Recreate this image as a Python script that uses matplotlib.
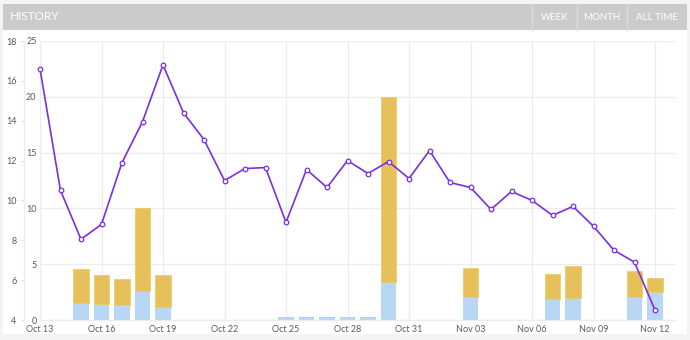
import matplotlib
matplotlib.use("Agg")
import matplotlib.pyplot as plt
from matplotlib.patches import Rectangle
import numpy as np

# ---- data ----
days = ["Oct 13", "Oct 14", "Oct 15", "Oct 16", "Oct 17", "Oct 18", "Oct 19", "Oct 20",
        "Oct 21", "Oct 22", "Oct 23", "Oct 24", "Oct 25", "Oct 26", "Oct 27", "Oct 28",
        "Oct 29", "Oct 30", "Oct 31", "Nov 01", "Nov 02", "Nov 03", "Nov 04", "Nov 05",
        "Nov 06", "Nov 07", "Nov 08", "Nov 09", "Nov 10", "Nov 11", "Nov 12"]

rating = [16.6, 10.5, 8.05, 8.8, 11.9, 13.95, 16.8, 14.4, 13.05, 11.0, 11.6, 11.65,
          8.9, 11.55, 10.65, 12.0, 11.35, 11.95, 11.1, 12.5, 10.9, 10.65, 9.55,
          10.45, 10.0, 9.25, 9.7, 8.7, 7.5, 6.9, 4.5]

primary = [0, 0, 1.5, 1.45, 1.35, 2.6, 1.2, 0, 0, 0, 0, 0, 0.3, 0.3, 0.3, 0.3, 0.3,
           3.4, 0, 0, 0, 2.05, 0, 0, 0, 1.9, 2.0, 0, 0, 2.05, 2.55]
secondary = [0, 0, 3.05, 2.55, 2.35, 7.4, 2.8, 0, 0, 0, 0, 0, 0, 0, 0, 0, 0,
             16.6, 0, 0, 0, 2.6, 0, 0, 0, 2.25, 2.8, 0, 0, 2.3, 1.25]

tick_labels = ["Oct 13", "Oct 16", "Oct 19", "Oct 22", "Oct 25", "Oct 28", "Oct 31",
               "Nov 03", "Nov 06", "Nov 09", "Nov 12"]
bar_ticks = [0, 5, 10, 15, 20, 25]
rating_ticks = [4, 6, 8, 10, 12, 14, 16, 18]
buttons = ["WEEK", "MONTH", "ALL TIME"]

# ---- style ----
FONT = "Lato"
TICK_COLOR = "#5a5a5a"
GRID = "#ececec"
GOLD = "#E6C15B"
BLUE = "#B7D7F4"
PURPLE = "#7A2FE2"

W, H = 690, 340
fig = plt.figure(figsize=(W / 100, H / 100), dpi=100)
fig.patch.set_facecolor("#F4F4F4")

def fx(px):
    return px / W

def fy(py):
    return 1 - py / H

# card and header
fig.patches.append(Rectangle((fx(3), fy(334)), fx(684), 330 / H, transform=fig.transFigure,
                             facecolor="white", edgecolor="none", zorder=-2))
fig.patches.append(Rectangle((fx(3), fy(30)), fx(684), 26 / H, transform=fig.transFigure,
                             facecolor="#CBCBCB", edgecolor="none", zorder=-1))
for sx in (532, 577, 627):
    fig.add_artist(plt.Line2D([fx(sx), fx(sx)], [fy(30), fy(4)], transform=fig.transFigure,
                              color="#DCDCDC", lw=1.0, zorder=2))
fig.text(fx(10), fy(17), "HISTORY", color="white", fontsize=8.5, family=FONT,
         ha="left", va="center", zorder=3)
btn_centers = [554.5, 602, 657]
for label, cx in zip(buttons, btn_centers):
    fig.text(fx(cx), fy(17), label, color="white", fontsize=7, family=FONT,
             ha="center", va="center", zorder=3)

# ---- axes ----
left, right, top, bottom = 40, 676, 41, 320
ax = fig.add_axes([fx(left), fy(bottom), fx(right - left), (bottom - top) / H])
ax.set_zorder(3)
ax.set_facecolor("none")
x = np.arange(len(days))

ax.bar(x, primary, width=0.74, color=BLUE, edgecolor="none", zorder=2)
ax.bar(x, secondary, width=0.74, bottom=primary, color=GOLD, edgecolor="#EDCB6A",
       linewidth=0.6, zorder=2)

ax.set_xlim(0, (right - left) / 20.5)
ax.set_ylim(0, 25)
ax.set_yticks(bar_ticks)
ax.set_yticklabels([str(t) for t in bar_ticks])
tick_pos = [days.index(t) for t in tick_labels]
ax.set_xticks(tick_pos)
ax.set_xticklabels(tick_labels)
ax.tick_params(axis="both", length=0, labelsize=6.5, colors=TICK_COLOR)
ax.tick_params(axis="x", pad=3.8)
ax.tick_params(axis="y", pad=2.5)
for lab in ax.get_xticklabels() + ax.get_yticklabels():
    lab.set_family(FONT)
ax.grid(True, color=GRID, linewidth=0.9, zorder=0)
ax.set_axisbelow(True)
for s in ("top", "right"):
    ax.spines[s].set_visible(False)
for s in ("left", "bottom"):
    ax.spines[s].set_color(GRID)
    ax.spines[s].set_linewidth(0.9)

# rating line on its own left axis
ax2 = ax.twinx()
ax2.set_zorder(4)
ax2.plot(x, rating, color=PURPLE, lw=1.2, marker="o", markersize=3.3,
         markerfacecolor="white", markeredgecolor=PURPLE, markeredgewidth=0.9,
         zorder=5, clip_on=False)
ax2.set_ylim(4, 18)
ax2.set_yticks(rating_ticks)
ax2.yaxis.tick_left()
ax2.spines["left"].set_visible(True)
ax2.spines["left"].set_position(("outward", 11.8))
ax2.spines["left"].set_color(GRID)
ax2.spines["left"].set_linewidth(0.9)
for s in ("top", "right", "bottom"):
    ax2.spines[s].set_visible(False)
ax2.tick_params(axis="y", length=2.5, width=0.8, color="#dddddd", labelsize=6.5,
                labelcolor=TICK_COLOR, pad=2.5)
for lab in ax2.get_yticklabels():
    lab.set_family(FONT)

fig.savefig("out.png", dpi=100, facecolor=fig.get_facecolor())
